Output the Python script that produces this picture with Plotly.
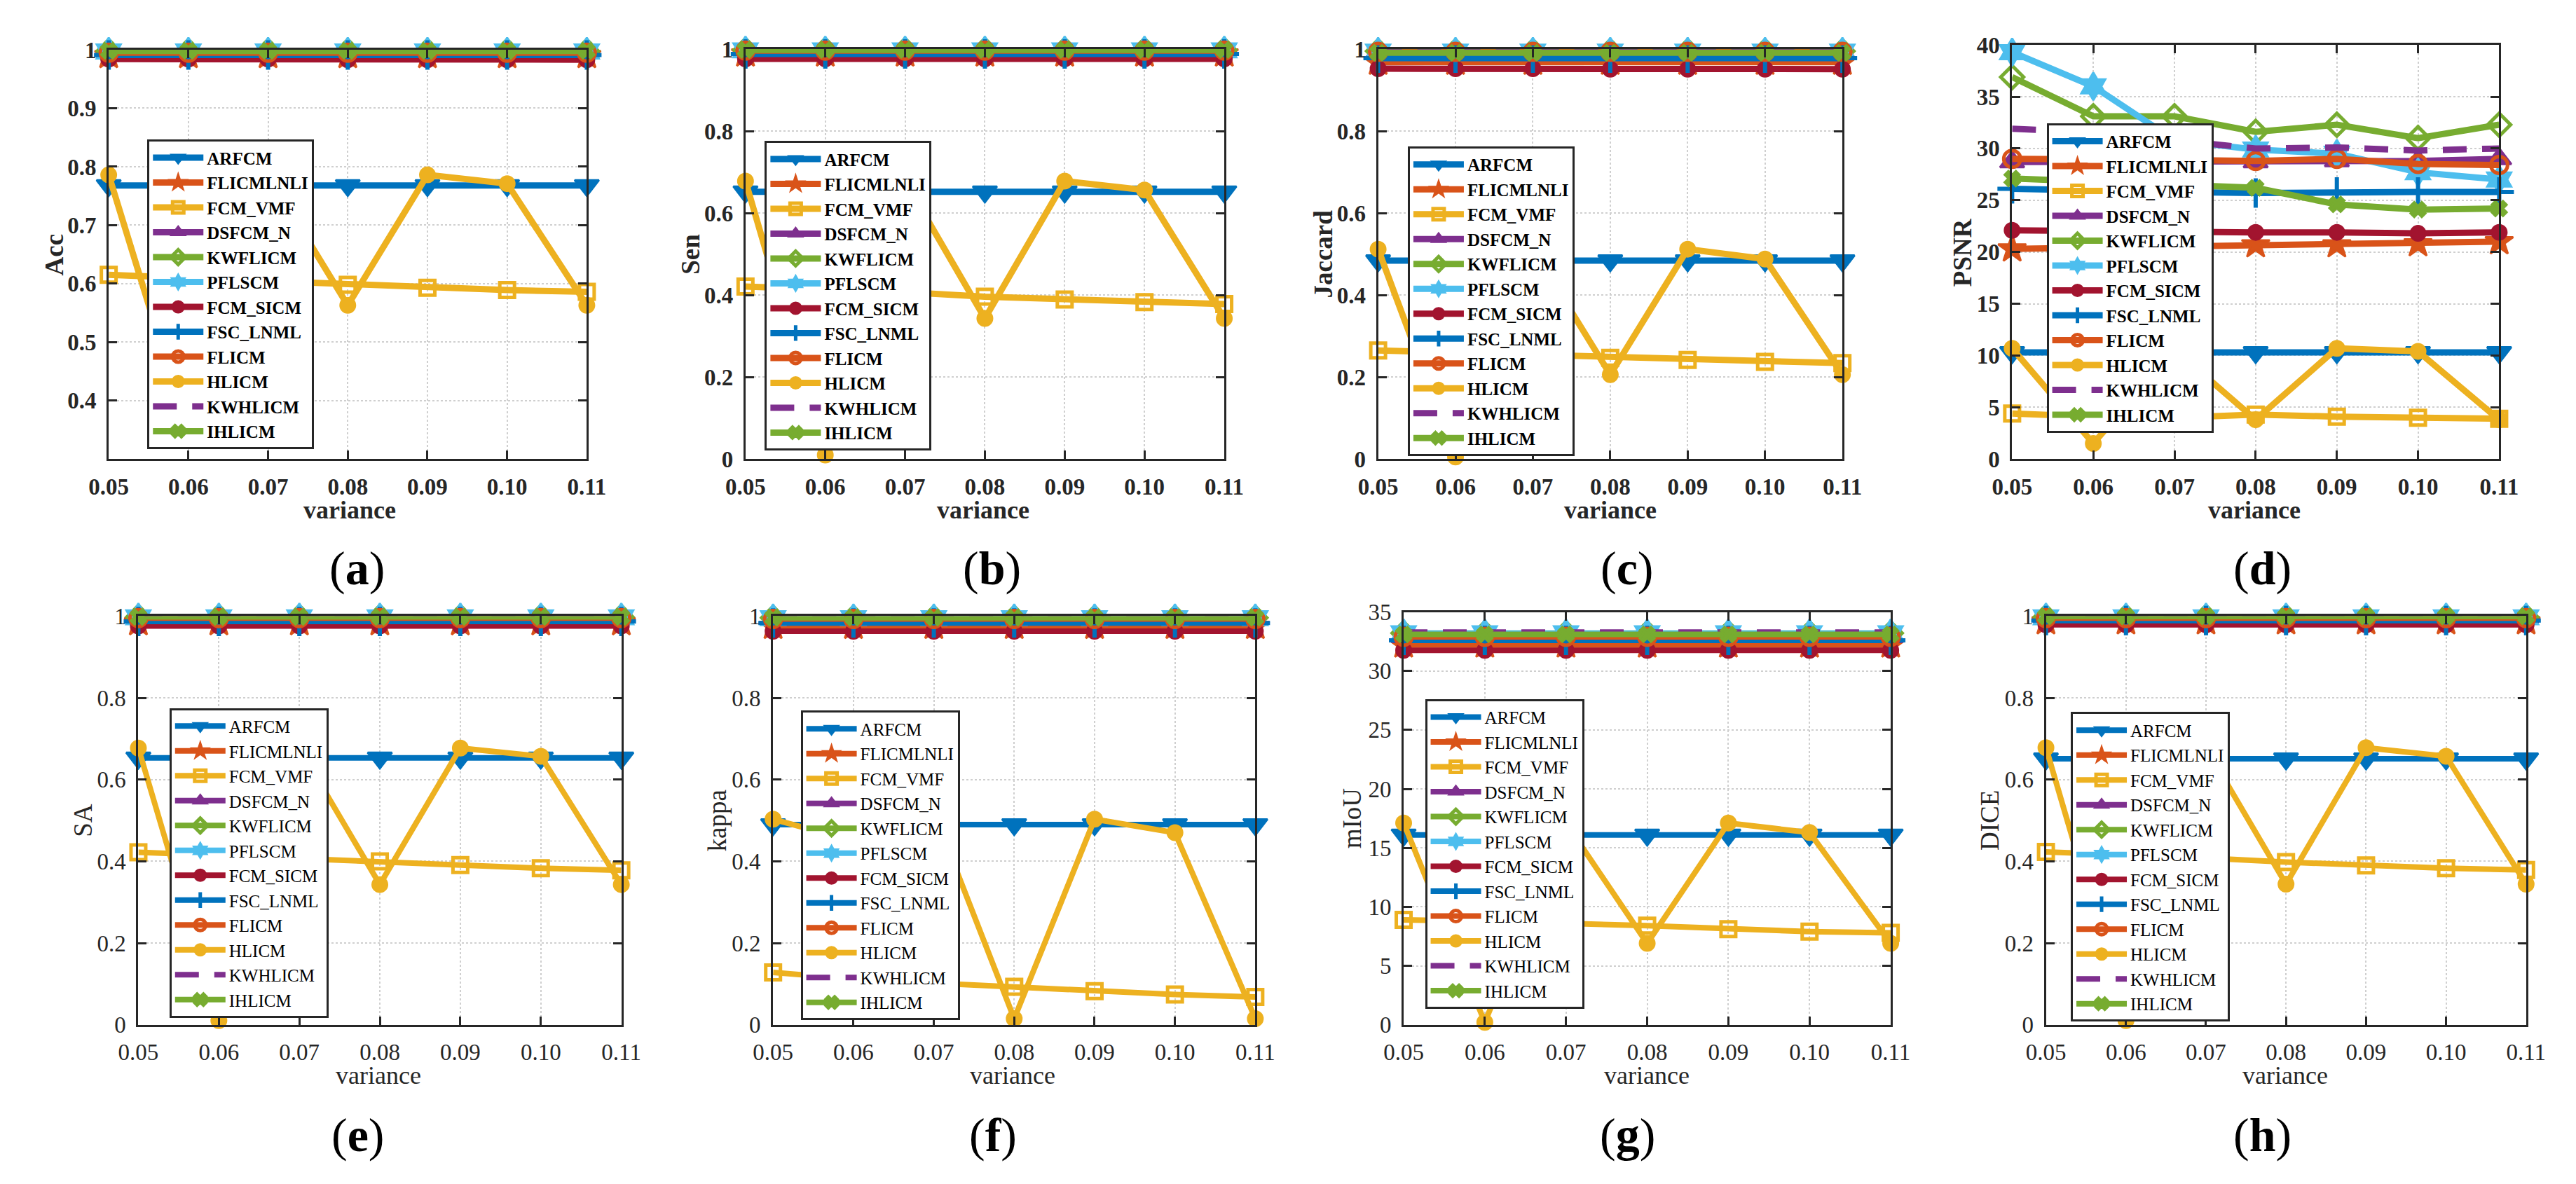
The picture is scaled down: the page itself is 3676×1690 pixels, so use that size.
import plotly.graph_objects as go

W, H = 3676, 1690

variance = [0.05, 0.06, 0.07, 0.08, 0.09, 0.10, 0.11]
variance_labels = ["0.05", "0.06", "0.07", "0.08", "0.09", "0.10", "0.11"]
methods = ["ARFCM", "FLICMLNLI", "FCM_VMF", "DSFCM_N", "KWFLICM", "PFLSCM",
           "FCM_SICM", "FSC_LNML", "FLICM", "HLICM", "KWHLICM", "IHLICM"]

# ---------------- (a) Acc ----------------
acc_ARFCM = [0.768, 0.768, 0.768, 0.768, 0.768, 0.768, 0.768]
acc_FLICMLNLI = [0.990, 0.990, 0.990, 0.990, 0.990, 0.990, 0.990]
acc_FCM_VMF = [0.615, 0.610, 0.605, 0.598, 0.593, 0.589, 0.586]
acc_DSFCM_N = [0.996, 0.996, 0.996, 0.996, 0.996, 0.996, 0.996]
acc_KWFLICM = [0.998, 0.998, 0.998, 0.998, 0.998, 0.998, 0.998]
acc_PFLSCM = [0.997, 0.997, 0.997, 0.997, 0.997, 0.997, 0.997]
acc_FCM_SICM = [0.984, 0.984, 0.984, 0.983, 0.983, 0.983, 0.983]
acc_FSC_LNML = [0.991, 0.991, 0.991, 0.991, 0.991, 0.991, 0.991]
acc_FLICM = [0.995, 0.995, 0.995, 0.995, 0.995, 0.995, 0.995]
acc_HLICM = [0.786, 0.343, 0.786, 0.563, 0.786, 0.771, 0.563]
acc_KWHLICM = [0.999, 0.999, 0.999, 0.999, 0.999, 0.999, 0.999]
acc_IHLICM = [0.998, 0.998, 0.998, 0.998, 0.998, 0.998, 0.998]

# ---------------- (b) Sen ----------------
sen_ARFCM = [0.652, 0.652, 0.652, 0.652, 0.652, 0.652, 0.652]
sen_FLICMLNLI = [0.988, 0.988, 0.988, 0.988, 0.988, 0.988, 0.988]
sen_FCM_VMF = [0.421, 0.414, 0.407, 0.396, 0.389, 0.383, 0.378]
sen_DSFCM_N = [0.995, 0.995, 0.995, 0.995, 0.995, 0.995, 0.995]
sen_KWFLICM = [0.998, 0.998, 0.998, 0.998, 0.998, 0.998, 0.998]
sen_PFLSCM = [0.997, 0.997, 0.997, 0.997, 0.997, 0.997, 0.997]
sen_FCM_SICM = [0.976, 0.976, 0.976, 0.976, 0.976, 0.976, 0.976]
sen_FSC_LNML = [0.988, 0.988, 0.988, 0.988, 0.988, 0.988, 0.988]
sen_FLICM = [0.996, 0.996, 0.996, 0.996, 0.996, 0.996, 0.996]
sen_HLICM = [0.678, 0.010, 0.678, 0.343, 0.678, 0.656, 0.343]
sen_KWHLICM = [1.000, 1.000, 1.000, 1.000, 1.000, 1.000, 1.000]
sen_IHLICM = [0.998, 0.998, 0.998, 0.998, 0.998, 0.998, 0.998]

# ---------------- (c) Jaccard ----------------
jac_ARFCM = [0.484, 0.484, 0.484, 0.484, 0.484, 0.484, 0.484]
jac_FLICMLNLI = [0.968, 0.968, 0.968, 0.968, 0.968, 0.968, 0.968]
jac_FCM_VMF = [0.265, 0.260, 0.254, 0.247, 0.242, 0.237, 0.234]
jac_DSFCM_N = [0.992, 0.992, 0.992, 0.992, 0.992, 0.992, 0.992]
jac_KWFLICM = [0.995, 0.995, 0.995, 0.995, 0.995, 0.995, 0.995]
jac_PFLSCM = [0.994, 0.994, 0.994, 0.994, 0.994, 0.994, 0.994]
jac_FCM_SICM = [0.952, 0.952, 0.952, 0.951, 0.951, 0.951, 0.951]
jac_FSC_LNML = [0.978, 0.978, 0.978, 0.978, 0.978, 0.978, 0.978]
jac_FLICM = [0.993, 0.993, 0.993, 0.993, 0.993, 0.993, 0.993]
jac_HLICM = [0.512, 0.005, 0.512, 0.206, 0.512, 0.488, 0.206]
jac_KWHLICM = [0.999, 0.999, 0.999, 0.999, 0.999, 0.999, 0.999]
jac_IHLICM = [0.991, 0.991, 0.991, 0.991, 0.991, 0.991, 0.991]

# ---------------- (d) PSNR ----------------
psnr_ARFCM = [10.3, 10.3, 10.3, 10.3, 10.3, 10.3, 10.3]
psnr_FLICMLNLI = [20.3, 20.4, 20.5, 20.7, 20.7, 20.8, 21.0]
psnr_FCM_VMF = [4.4, 4.1, 4.0, 4.3, 4.1, 4.0, 3.9]
psnr_DSFCM_N = [28.7, 28.7, 28.7, 28.7, 28.8, 28.8, 29.0]
psnr_KWFLICM = [36.9, 33.1, 33.1, 31.6, 32.3, 31.0, 32.3]
psnr_PFLSCM = [39.3, 36.0, 30.8, 29.9, 29.5, 27.7, 27.0]
psnr_FCM_SICM = [22.1, 22.0, 22.0, 21.9, 21.9, 21.8, 21.9]
psnr_FSC_LNML = [26.1, 25.9, 25.8, 25.7, 25.8, 25.8, 25.8]
psnr_FLICM = [29.0, 29.0, 28.9, 28.8, 29.0, 28.5, 28.4]
psnr_HLICM = [10.7, 1.5, 10.6, 3.8, 10.7, 10.4, 3.8]
psnr_KWHLICM = [31.9, 31.6, 30.8, 30.0, 30.1, 29.8, 30.0]
psnr_IHLICM = [27.1, 26.8, 26.5, 26.2, 24.6, 24.1, 24.2]

# ---------------- (e) SA ----------------
sa_ARFCM = [0.653, 0.653, 0.653, 0.653, 0.653, 0.653, 0.653]
sa_FLICMLNLI = [0.984, 0.984, 0.984, 0.984, 0.984, 0.984, 0.984]
sa_FCM_VMF = [0.422, 0.415, 0.408, 0.400, 0.391, 0.383, 0.378]
sa_DSFCM_N = [0.995, 0.995, 0.995, 0.995, 0.995, 0.995, 0.995]
sa_KWFLICM = [0.998, 0.998, 0.998, 0.998, 0.998, 0.998, 0.998]
sa_PFLSCM = [0.997, 0.997, 0.997, 0.997, 0.997, 0.997, 0.997]
sa_FCM_SICM = [0.976, 0.976, 0.976, 0.976, 0.976, 0.976, 0.976]
sa_FSC_LNML = [0.987, 0.987, 0.987, 0.987, 0.987, 0.987, 0.987]
sa_FLICM = [0.995, 0.995, 0.995, 0.995, 0.995, 0.995, 0.995]
sa_HLICM = [0.677, 0.010, 0.677, 0.343, 0.677, 0.657, 0.343]
sa_KWHLICM = [1.000, 1.000, 1.000, 1.000, 1.000, 1.000, 1.000]
sa_IHLICM = [0.998, 0.998, 0.998, 0.998, 0.998, 0.998, 0.998]

# ---------------- (f) kappa ----------------
kap_ARFCM = [0.490, 0.490, 0.490, 0.490, 0.490, 0.490, 0.490]
kap_FLICMLNLI = [0.975, 0.975, 0.975, 0.975, 0.975, 0.975, 0.975]
kap_FCM_VMF = [0.128, 0.112, 0.102, 0.093, 0.082, 0.074, 0.068]
kap_DSFCM_N = [0.993, 0.993, 0.993, 0.993, 0.993, 0.993, 0.993]
kap_KWFLICM = [0.996, 0.996, 0.996, 0.996, 0.996, 0.996, 0.996]
kap_PFLSCM = [0.995, 0.995, 0.995, 0.995, 0.995, 0.995, 0.995]
kap_FCM_SICM = [0.963, 0.963, 0.963, 0.963, 0.963, 0.963, 0.963]
kap_FSC_LNML = [0.983, 0.983, 0.983, 0.983, 0.983, 0.983, 0.983]
kap_FLICM = [0.993, 0.993, 0.993, 0.993, 0.993, 0.993, 0.993]
kap_HLICM = [0.503, 0.450, 0.520, 0.015, 0.503, 0.470, 0.015]
kap_KWHLICM = [1.000, 1.000, 1.000, 1.000, 1.000, 1.000, 1.000]
kap_IHLICM = [0.996, 0.996, 0.996, 0.996, 0.996, 0.996, 0.996]

# ---------------- (g) mIoU ----------------
miou_ARFCM = [16.1, 16.1, 16.1, 16.1, 16.1, 16.1, 16.1]
miou_FLICMLNLI = [32.2, 32.2, 32.2, 32.2, 32.2, 32.2, 32.2]
miou_FCM_VMF = [8.9, 8.8, 8.6, 8.4, 8.1, 7.9, 7.8]
miou_DSFCM_N = [32.9, 32.9, 32.9, 32.9, 32.9, 32.9, 32.9]
miou_KWFLICM = [33.2, 33.2, 33.2, 33.2, 33.2, 33.2, 33.2]
miou_PFLSCM = [33.2, 33.2, 33.2, 33.2, 33.2, 33.2, 33.2]
miou_FCM_SICM = [31.75, 31.75, 31.75, 31.75, 31.75, 31.75, 31.75]
miou_FSC_LNML = [32.6, 32.6, 32.6, 32.6, 32.6, 32.6, 32.6]
miou_FLICM = [32.9, 32.9, 32.9, 32.9, 32.9, 32.9, 32.9]
miou_HLICM = [17.1, 0.2, 17.1, 6.9, 17.1, 16.3, 6.9]
miou_KWHLICM = [33.3, 33.3, 33.3, 33.3, 33.3, 33.3, 33.3]
miou_IHLICM = [33.1, 33.1, 33.1, 33.1, 33.1, 33.1, 33.1]

# ---------------- (h) DICE ----------------
dice_ARFCM = [0.651, 0.651, 0.651, 0.651, 0.651, 0.651, 0.651]
dice_FLICMLNLI = [0.986, 0.986, 0.986, 0.986, 0.986, 0.986, 0.986]
dice_FCM_VMF = [0.423, 0.416, 0.408, 0.398, 0.390, 0.383, 0.379]
dice_DSFCM_N = [0.996, 0.996, 0.996, 0.996, 0.996, 0.996, 0.996]
dice_KWFLICM = [0.998, 0.998, 0.998, 0.998, 0.998, 0.998, 0.998]
dice_PFLSCM = [0.997, 0.997, 0.997, 0.997, 0.997, 0.997, 0.997]
dice_FCM_SICM = [0.979, 0.979, 0.979, 0.979, 0.979, 0.979, 0.979]
dice_FSC_LNML = [0.989, 0.989, 0.989, 0.989, 0.989, 0.989, 0.989]
dice_FLICM = [0.995, 0.995, 0.995, 0.995, 0.995, 0.995, 0.995]
dice_HLICM = [0.678, 0.010, 0.678, 0.344, 0.678, 0.657, 0.344]
dice_KWHLICM = [1.000, 1.000, 1.000, 1.000, 1.000, 1.000, 1.000]
dice_IHLICM = [0.999, 0.999, 0.999, 0.999, 0.999, 0.999, 0.999]

acc = [acc_ARFCM, acc_FLICMLNLI, acc_FCM_VMF, acc_DSFCM_N, acc_KWFLICM, acc_PFLSCM,
       acc_FCM_SICM, acc_FSC_LNML, acc_FLICM, acc_HLICM, acc_KWHLICM, acc_IHLICM]
sen = [sen_ARFCM, sen_FLICMLNLI, sen_FCM_VMF, sen_DSFCM_N, sen_KWFLICM, sen_PFLSCM,
       sen_FCM_SICM, sen_FSC_LNML, sen_FLICM, sen_HLICM, sen_KWHLICM, sen_IHLICM]
jac = [jac_ARFCM, jac_FLICMLNLI, jac_FCM_VMF, jac_DSFCM_N, jac_KWFLICM, jac_PFLSCM,
       jac_FCM_SICM, jac_FSC_LNML, jac_FLICM, jac_HLICM, jac_KWHLICM, jac_IHLICM]
psnr = [psnr_ARFCM, psnr_FLICMLNLI, psnr_FCM_VMF, psnr_DSFCM_N, psnr_KWFLICM, psnr_PFLSCM,
        psnr_FCM_SICM, psnr_FSC_LNML, psnr_FLICM, psnr_HLICM, psnr_KWHLICM, psnr_IHLICM]
sa = [sa_ARFCM, sa_FLICMLNLI, sa_FCM_VMF, sa_DSFCM_N, sa_KWFLICM, sa_PFLSCM,
      sa_FCM_SICM, sa_FSC_LNML, sa_FLICM, sa_HLICM, sa_KWHLICM, sa_IHLICM]
kap = [kap_ARFCM, kap_FLICMLNLI, kap_FCM_VMF, kap_DSFCM_N, kap_KWFLICM, kap_PFLSCM,
       kap_FCM_SICM, kap_FSC_LNML, kap_FLICM, kap_HLICM, kap_KWHLICM, kap_IHLICM]
miou = [miou_ARFCM, miou_FLICMLNLI, miou_FCM_VMF, miou_DSFCM_N, miou_KWFLICM, miou_PFLSCM,
        miou_FCM_SICM, miou_FSC_LNML, miou_FLICM, miou_HLICM, miou_KWHLICM, miou_IHLICM]
dice = [dice_ARFCM, dice_FLICMLNLI, dice_FCM_VMF, dice_DSFCM_N, dice_KWFLICM, dice_PFLSCM,
        dice_FCM_SICM, dice_FSC_LNML, dice_FLICM, dice_HLICM, dice_KWHLICM, dice_IHLICM]

unit_ticks = [0, 0.2, 0.4, 0.6, 0.8, 1]
unit_labels = ["0", "0.2", "0.4", "0.6", "0.8", "1"]
acc_ticks = [0.4, 0.5, 0.6, 0.7, 0.8, 0.9, 1]
acc_labels = ["0.4", "0.5", "0.6", "0.7", "0.8", "0.9", "1"]
psnr_ticks = [0, 5, 10, 15, 20, 25, 30, 35, 40]
miou_ticks = [0, 5, 10, 15, 20, 25, 30, 35]

# ---------------- styles ----------------
BLUE, ORANGE, YELLOW, PURPLE = "#0072BD", "#D95319", "#EDB120", "#7E2F8E"
GREEN, CYAN, RED = "#77AC30", "#4DBEEE", "#A2142F"
styles = {
    "ARFCM": dict(color=BLUE, symbol="triangle-down", size=30, lw=3),
    "FLICMLNLI": dict(color=ORANGE, symbol="star", size=30, lw=3),
    "FCM_VMF": dict(color=YELLOW, symbol="square-open", size=21, lw=5),
    "DSFCM_N": dict(color=PURPLE, symbol="triangle-up", size=30, lw=3),
    "KWFLICM": dict(color=GREEN, symbol="diamond-open", size=25, lw=5),
    "PFLSCM": dict(color=CYAN, symbol="hexagram", size=30, lw=3),
    "FCM_SICM": dict(color=RED, symbol="circle", size=21, lw=3),
    "FSC_LNML": dict(color=BLUE, symbol="cross-thin-open", size=30, lw=6),
    "FLICM": dict(color=ORANGE, symbol="circle-open", size=24, lw=5),
    "HLICM": dict(color=YELLOW, symbol="circle", size=21, lw=3),
    "KWHLICM": dict(color=PURPLE, symbol=None, size=0, lw=0),
    "IHLICM": dict(color=GREEN, symbol="x", size=19, lw=3),
}

SERIF = "Liberation Serif, Times New Roman, serif"
INK = "#262626"

# panel geometry in pixels: x0, x1, y_top, y_bottom
panels = [
    dict(data=acc, ylab="Acc", yr=[0.3, 1.0], tv=acc_ticks, tt=acc_labels,
         px=(120, 813), py=(47, 644), leg=(176, 178), ylx=41, letter="a",
         varx=469, lettx=480, top=True),
    dict(data=sen, ylab="Sen", yr=[0, 1], tv=unit_ticks, tt=unit_labels,
         px=(1043, 1737), py=(46, 644), leg=(1071, 180), ylx=964, letter="b",
         varx=1388, lettx=1400, top=True),
    dict(data=jac, ylab="Jaccard", yr=[0, 1], tv=unit_ticks, tt=unit_labels,
         px=(1960, 2633), py=(46, 644), leg=(2003, 188), ylx=1881, letter="c",
         varx=2297, lettx=2321, top=True),
    dict(data=psnr, ylab="PSNR", yr=[0, 40], tv=psnr_ticks, tt=[str(v) for v in psnr_ticks],
         px=(2879, 3585), py=(40, 644), leg=(2929, 154), ylx=2807, letter="d",
         varx=3230, lettx=3242, top=True),
    dict(data=sa, ylab="SA", yr=[0, 1], tv=unit_ticks, tt=unit_labels,
         px=(163, 863), py=(873, 1469), leg=(208, 1007), ylx=82, letter="e",
         varx=511, lettx=481, top=False),
    dict(data=kap, ylab="kappa", yr=[0, 1], tv=unit_ticks, tt=unit_labels,
         px=(1083, 1782), py=(873, 1469), leg=(1123, 1011), ylx=1002, letter="f",
         varx=1430, lettx=1402, top=False),
    dict(data=miou, ylab="mIoU", yr=[0, 35], tv=miou_ticks, tt=[str(v) for v in miou_ticks],
         px=(1997, 2703), py=(867, 1469), leg=(2028, 994), ylx=1922, letter="g",
         varx=2349, lettx=2321, top=False),
    dict(data=dice, ylab="DICE", yr=[0, 1], tv=unit_ticks, tt=unit_labels,
         px=(2928, 3624), py=(873, 1469), leg=(2964, 1013), ylx=2846, letter="h",
         varx=3275, lettx=3242, top=False),
]


def fx(p):
    return p / W


def fy(p):
    return 1 - p / H


fig = go.Figure()
layout = dict(width=W, height=H, margin=dict(l=0, r=0, t=0, b=0),
              paper_bgcolor="white", plot_bgcolor="white",
              font=dict(family=SERIF, color=INK), annotations=[])

for k, p in enumerate(panels, start=1):
    xa = "x" if k == 1 else f"x{k}"
    ya = "y" if k == 1 else f"y{k}"
    lg = "legend" if k == 1 else f"legend{k}"
    weight = "bold" if p["top"] else "normal"
    lwidth = 9 if p["top"] else 8
    for name, vals in zip(methods, p["data"]):
        st = styles[name]
        if name == "KWHLICM":
            fig.add_trace(go.Scatter(
                x=variance, y=vals, name=name, xaxis=xa, yaxis=ya, legend=lg,
                mode="lines", line=dict(color=st["color"], width=lwidth, dash="34px,22px"),
                cliponaxis=False))
        else:
            fig.add_trace(go.Scatter(
                x=variance, y=vals, name=name, xaxis=xa, yaxis=ya, legend=lg,
                mode="lines+markers", line=dict(color=st["color"], width=lwidth),
                marker=dict(symbol=st["symbol"], size=st["size"], color=st["color"],
                            line=dict(color=st["color"], width=st["lw"])),
                cliponaxis=False))

    axis_common = dict(showline=True, linewidth=3, linecolor=INK, mirror="ticks",
                       ticks="inside", ticklen=12, tickwidth=3, tickcolor=INK,
                       showgrid=True, gridcolor="#cfcfcf", gridwidth=2, griddash="dot",
                       zeroline=False, ticklabelstandoff=8,
                       tickfont=dict(family=SERIF, size=33, color=INK, weight=weight))
    xkey = "xaxis" if k == 1 else f"xaxis{k}"
    ykey = "yaxis" if k == 1 else f"yaxis{k}"
    layout[xkey] = dict(axis_common, domain=[fx(p["px"][0]), fx(p["px"][1])], anchor=ya,
                        range=[0.05, 0.11], tickmode="array", tickvals=variance,
                        ticktext=variance_labels)
    layout[ykey] = dict(axis_common, domain=[fy(p["py"][1]), fy(p["py"][0])], anchor=xa,
                        range=p["yr"], tickmode="array", tickvals=p["tv"], ticktext=p["tt"])
    layout[lg] = dict(x=fx(p["leg"][0]), y=fy(p["leg"][1]), xanchor="left", yanchor="top",
                      bgcolor="white", bordercolor=INK, borderwidth=3,
                      font=dict(family=SERIF, size=25, color="black", weight=weight),
                      tracegroupgap=0, itemwidth=72)

    ymid = (p["py"][0] + p["py"][1]) / 2
    row_var_y = 718 if p["top"] else 1543
    row_let_y = 803 if p["top"] else 1630
    layout["annotations"] += [
        dict(text=p["ylab"], x=fx(p["ylx"]), y=fy(ymid), xref="paper", yref="paper",
             textangle=-90, showarrow=False, xanchor="center", yanchor="middle",
             font=dict(family=SERIF, size=37, color=INK, weight=weight)),
        dict(text="variance", x=fx(p["varx"]), y=fy(row_var_y), xref="paper", yref="paper",
             showarrow=False, xanchor="center", yanchor="middle",
             font=dict(family=SERIF, size=36, color=INK, weight=weight)),
        dict(text="(<b>" + p["letter"] + "</b>)", x=fx(p["lettx"]), y=fy(row_let_y),
             xref="paper", yref="paper", showarrow=False, xanchor="center", yanchor="middle",
             font=dict(family=SERIF, size=68, color="black")),
    ]

fig.update_layout(**layout)
fig.write_html("out.html")
